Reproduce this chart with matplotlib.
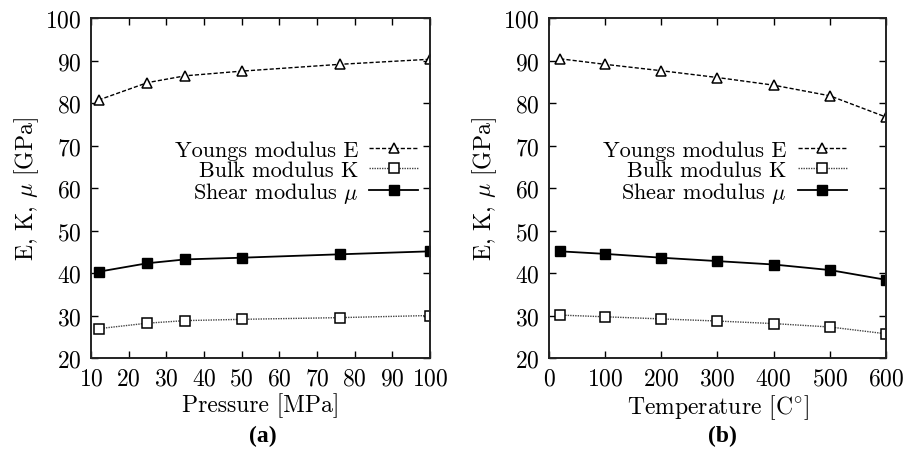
import numpy as np
import matplotlib
matplotlib.use("Agg")
import matplotlib.pyplot as plt

# (a) pressure series
pressure = [12, 25, 35, 50, 76, 100]
E_p = [80.7, 84.8, 86.4, 87.5, 89.1, 90.3]
K_p = [26.9, 28.2, 28.8, 29.1, 29.5, 30.0]
mu_p = [40.3, 42.3, 43.2, 43.6, 44.4, 45.1]

# (b) temperature series
temperature = [20, 100, 200, 300, 400, 500, 600]
E_t = [90.4, 89.1, 87.6, 86.0, 84.2, 81.7, 76.7]
K_t = [30.1, 29.7, 29.2, 28.7, 28.1, 27.3, 25.7]
mu_t = [45.1, 44.5, 43.6, 42.8, 42.0, 40.7, 38.4]

labels = ["Youngs modulus E", "Bulk modulus K", r"Shear modulus $\mu$"]

plt.rcParams['font.family'] = ['cmr10', 'DejaVu Serif']
plt.rcParams['mathtext.fontset'] = 'cm'
plt.rcParams['axes.formatter.use_mathtext'] = True
plt.rcParams['font.size'] = 17

fig = plt.figure(figsize=(9.18, 4.56), dpi=100)
ax1 = fig.add_axes([0.0991, 0.2127, 0.3693, 0.7456])
ax2 = fig.add_axes([0.598, 0.2127, 0.3671, 0.7456])


def draw(ax, x, E, K, mu, legx):
    ax.plot(x, E, color='black', lw=1.0, ls=(0, (3, 1.5)), marker='^',
            ms=6.5, mfc='white', mec='black', mew=1.1, label=labels[0])
    ax.plot(x, K, color='#444444', lw=1.0, ls=(0, (1, 0.8)), marker='s',
            ms=7, mfc='white', mec='black', mew=1.1, label=labels[1])
    ax.plot(x, mu, color='black', lw=1.3, ls='-', marker='s',
            ms=7, mfc='black', mec='black', label=labels[2])
    ax.set_ylim(20, 100)
    ax.set_yticks(np.arange(20, 101, 10))
    ax.set_ylabel(r"E, K, $\mu$ [GPa]", labelpad=3)
    ax.tick_params(direction='in', top=True, right=True, length=5,
                   width=1.0, pad=7)
    for s in ax.spines.values():
        s.set_linewidth(1.4)
        s.set_color('#222222')
    leg = ax.legend(loc='center right', bbox_to_anchor=(legx, 0.545),
                    frameon=False, markerfirst=False, handlelength=2.2,
                    handletextpad=0.5, labelspacing=0.0, borderpad=0.0,
                    borderaxespad=0.0, fontsize=16)
    for t in leg.get_texts():
        t.set_ha('right')


draw(ax1, pressure, E_p, K_p, mu_p, 0.965)
ax1.set_xlim(10, 100)
ax1.set_xticks(np.arange(10, 101, 10))
ax1.set_xlabel("Pressure [MPa]", labelpad=2)

draw(ax2, temperature, E_t, K_t, mu_t, 0.884)
ax2.set_xlim(0, 600)
ax2.set_xticks(np.arange(0, 601, 100))
ax2.set_xlabel(r"Temperature [C$^{\circ}$]", labelpad=2)

fig.text(0.2865, 0.042, "(a)", ha='center', va='center', fontsize=17,
         fontweight='bold', family='Liberation Serif')
fig.text(0.7865, 0.042, "(b)", ha='center', va='center', fontsize=17,
         fontweight='bold', family='Liberation Serif')

fig.savefig("out.png", dpi=100)
